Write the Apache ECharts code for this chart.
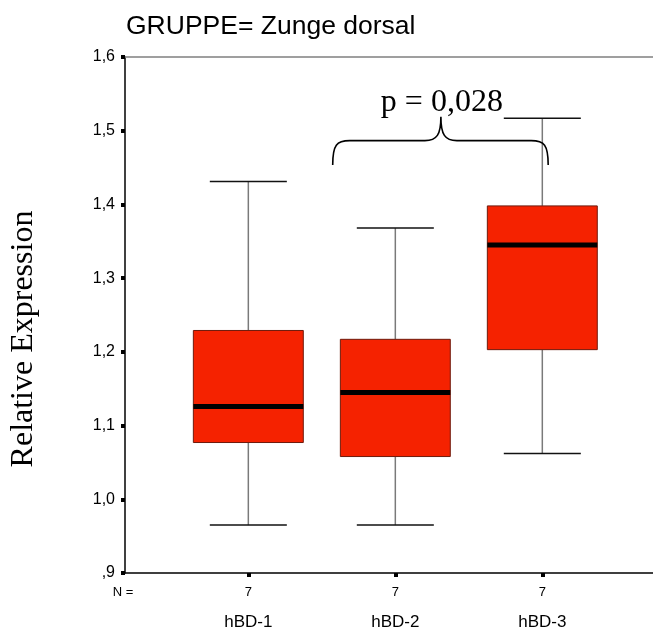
<!DOCTYPE html>
<html>
<head>
<meta charset="utf-8">
<script src="https://cdn.jsdelivr.net/npm/echarts@6/dist/echarts.min.js"></script>
<style>
html,body{margin:0;padding:0;background:#fff;}
#c{width:653px;height:632px;}
</style>
</head>
<body>
<div id="c"></div>
<script>
// ---- data ----
const categories = ['hBD-1', 'hBD-2', 'hBD-3'];
const nValues = [7, 7, 7];
const whiskerLow = [0.965, 0.965, 1.062];
const q1Values = [1.077, 1.058, 1.203];
const medianValues = [1.126, 1.145, 1.345];
const q3Values = [1.229, 1.217, 1.398];
const whiskerHigh = [1.431, 1.368, 1.517];
const yTicks = [0.9, 1.0, 1.1, 1.2, 1.3, 1.4, 1.5, 1.6];
const titleText = 'GRUPPE= Zunge dorsal';
const yAxisTitle = 'Relative Expression';
const pLabel = 'p = 0,028';
// brace annotation (in data units): from x, to x, tip x, ends y, bar y, tip y
const braceSpan = [1.574, 3.04];
const braceTipX = 2.31;
const braceLevels = [1.4535, 1.4865, 1.519];

const boxData = categories.map((c, i) => [i + 1, whiskerLow[i], q1Values[i], medianValues[i], q3Values[i], whiskerHigh[i]]);

const X_MIN = 0.161, X_MAX = 3.753;
const chart = echarts.init(document.getElementById('c'), null, {renderer: 'canvas'});

function fmtY(v) {
  return v.toFixed(1).replace('.', ',').replace(/^0/, '');
}

const option = {
  backgroundColor: '#fff',
  animation: false,
  title: {
    text: titleText,
    left: 126,
    top: 13,
    padding: 0,
    textStyle: {fontFamily: 'Liberation Sans, Arial', fontSize: 26.5, fontWeight: 'normal', color: '#000'}
  },
  grid: {left: 125, right: 0, top: 57, bottom: 59, containLabel: false},
  xAxis: [{
    type: 'value', min: X_MIN, max: X_MAX,
    splitLine: {show: false},
    axisLine: {show: true, onZero: false, lineStyle: {color: '#000', width: 1.5}},
    axisTick: {show: true, customValues: [1, 2, 3], length: 4, inside: false, lineStyle: {color: '#000', width: 4}},
    axisLabel: {
      show: true, customValues: [1, 2, 3], margin: 9,
      formatter: function (v) {
        const i = Math.round(v) - 1;
        return '{n|' + nValues[i] + '}\n{c|' + categories[i] + '}';
      },
      rich: {
        n: {fontFamily: 'Liberation Sans, Arial', fontSize: 13, lineHeight: 20, color: '#000'},
        c: {fontFamily: 'Liberation Sans, Arial', fontSize: 17, lineHeight: 40, color: '#000'}
      }
    }
  }, {
    type: 'value', min: X_MIN, max: X_MAX, position: 'top',
    splitLine: {show: false},
    axisLine: {show: true, onZero: false, lineStyle: {color: '#808080', width: 1.5}},
    axisTick: {show: false}, axisLabel: {show: false}
  }],
  yAxis: {
    type: 'value', min: 0.9, max: 1.6, interval: 0.1,
    splitLine: {show: false},
    axisLine: {show: true, onZero: false, lineStyle: {color: '#000', width: 1.5}},
    axisTick: {show: true, length: 4, lineStyle: {color: '#000', width: 4}},
    axisLabel: {
      margin: 10, color: '#000', fontFamily: 'Liberation Sans, Arial', fontSize: 16,
      formatter: fmtY
    }
  },
  graphic: [{
    type: 'text', x: 24, y: 339, rotation: Math.PI / 2,
    style: {text: yAxisTitle, fontFamily: 'Liberation Serif, Times New Roman', fontSize: 32, fill: '#000', align: 'center', verticalAlign: 'middle'}
  }, {
    type: 'text', x: 123, y: 592,
    style: {text: 'N =', fontFamily: 'Liberation Sans, Arial', fontSize: 13, fill: '#000', align: 'center', verticalAlign: 'middle'}
  }],
  series: [{
    type: 'custom',
    xAxisIndex: 0,
    data: boxData,
    encode: {x: 0, y: [1, 2, 3, 4, 5]},
    renderItem: function (params, api) {
      const x = api.value(0);
      const pLow = api.coord([x, api.value(1)]);
      const pQ1 = api.coord([x, api.value(2)]);
      const pMed = api.coord([x, api.value(3)]);
      const pQ3 = api.coord([x, api.value(4)]);
      const pHigh = api.coord([x, api.value(5)]);
      const bw = api.size([0.748, 0])[0];
      const cw = api.size([0.524, 0])[0];
      const cx = pMed[0];
      return {
        type: 'group',
        children: [
          {type: 'line', shape: {x1: cx, y1: pQ3[1], x2: cx, y2: pHigh[1]}, style: {stroke: '#7a7a7a', lineWidth: 1.5}},
          {type: 'line', shape: {x1: cx, y1: pLow[1], x2: cx, y2: pQ1[1]}, style: {stroke: '#7a7a7a', lineWidth: 1.5}},
          {type: 'line', shape: {x1: cx - cw / 2, y1: pHigh[1], x2: cx + cw / 2, y2: pHigh[1]}, style: {stroke: '#111', lineWidth: 1.5}},
          {type: 'line', shape: {x1: cx - cw / 2, y1: pLow[1], x2: cx + cw / 2, y2: pLow[1]}, style: {stroke: '#111', lineWidth: 1.5}},
          {type: 'rect', shape: {x: cx - bw / 2, y: pQ3[1], width: bw, height: pQ1[1] - pQ3[1]}, style: {fill: '#F52200', stroke: '#6e1a0c', lineWidth: 1}},
          {type: 'line', shape: {x1: cx - bw / 2, y1: pMed[1], x2: cx + bw / 2, y2: pMed[1]}, style: {stroke: '#000', lineWidth: 5}}
        ]
      };
    }
  }, {
    type: 'custom',
    xAxisIndex: 0,
    data: [[braceSpan[0], braceSpan[1], braceTipX, braceLevels[0], braceLevels[1], braceLevels[2]]],
    renderItem: function (params, api) {
      const L = api.coord([api.value(0), api.value(3)]);
      const R = api.coord([api.value(1), api.value(3)]);
      const T = api.coord([api.value(2), api.value(5)]);
      const barY = api.coord([api.value(2), api.value(4)])[1];
      const r = 17, t = 16;
      const d = 'M' + L[0] + ' ' + L[1] +
        ' C' + L[0] + ' ' + (barY + 4) + ' ' + (L[0] + 4) + ' ' + barY + ' ' + (L[0] + r) + ' ' + barY +
        ' L' + (T[0] - t) + ' ' + barY +
        ' C' + (T[0] - 4) + ' ' + barY + ' ' + T[0] + ' ' + (barY - 6) + ' ' + T[0] + ' ' + T[1] +
        ' C' + T[0] + ' ' + (barY - 6) + ' ' + (T[0] + 4) + ' ' + barY + ' ' + (T[0] + t) + ' ' + barY +
        ' L' + (R[0] - r) + ' ' + barY +
        ' C' + (R[0] - 4) + ' ' + barY + ' ' + R[0] + ' ' + (barY + 4) + ' ' + R[0] + ' ' + R[1];
      return {
        type: 'group',
        children: [
          {type: 'path', shape: {pathData: d}, style: {fill: null, stroke: '#000', lineWidth: 1.6}},
          {type: 'text', x: T[0] + 1, y: T[1] + 2, style: {text: pLabel, fontFamily: 'Liberation Serif, Times New Roman', fontSize: 32, fill: '#000', align: 'center', verticalAlign: 'bottom'}}
        ]
      };
    }
  }]
};
chart.setOption(option);
</script>
</body>
</html>
